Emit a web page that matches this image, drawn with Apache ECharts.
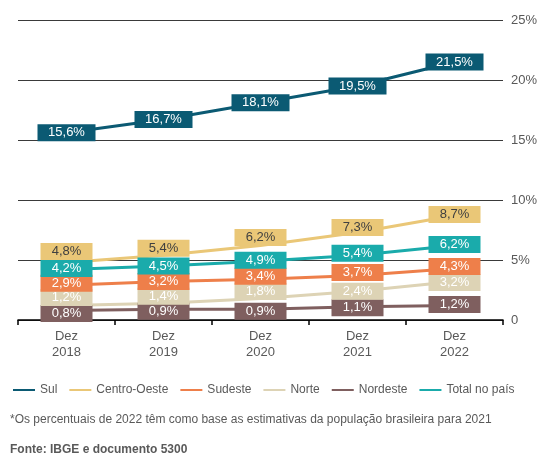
<!DOCTYPE html>
<html>
<head>
<meta charset="utf-8">
<script src="https://cdn.jsdelivr.net/npm/echarts@6/dist/echarts.min.js"></script>
<style>
  html, body { margin: 0; padding: 0; background: #fff; }
  #main { width: 550px; height: 455px; }
</style>
</head>
<body>
<div id="main"></div>
<script>
// categorias e valores (%)
const anos = ['Dez\n2018', 'Dez\n2019', 'Dez\n2020', 'Dez\n2021', 'Dez\n2022'];
const sul = [15.6, 16.7, 18.1, 19.5, 21.5];
const centroOeste = [4.8, 5.4, 6.2, 7.3, 8.7];
const sudeste = [2.9, 3.2, 3.4, 3.7, 4.3];
const norte = [1.2, 1.4, 1.8, 2.4, 3.2];
const nordeste = [0.8, 0.9, 0.9, 1.1, 1.2];
const totalPais = [4.2, 4.5, 4.9, 5.4, 6.2];
const yTicks = [0, 5, 10, 15, 20, 25];

// deslocamento vertical dos rótulos (px) para não se sobreporem, como no original
const desloc = {
  sul: [0, 0, 0, 0, 0],
  centroOeste: [-11, -7, -8, -5, -1],
  totalPais: [-1, 0, -1, -2, -1],
  sudeste: [-2, 0, -3, -3, -2],
  norte: [-8, -7, -7, 0, 1],
  nordeste: [3, 2, 2, 1, -1],
};

const FONT = '"Liberation Sans", Arial, sans-serif';
const GRAY = '#595959';

function fmt(v) {
  return v.toFixed(1).replace('.', ',') + '%';
}

// cria uma série de linha com rótulo em caixa colorida
function serie(name, data, dy, color, textColor, boxWidth) {
  return {
    name: name,
    type: 'line',
    data: data.map((v, i) => ({ value: v, label: { offset: [0, dy[i]] } })),
    symbol: 'circle',
    symbolSize: 1,
    showSymbol: true,
    lineStyle: { color: color, width: 3 },
    itemStyle: { color: color },
    label: {
      show: true,
      position: 'inside',
      formatter: p => fmt(p.value),
      backgroundColor: color,
      color: textColor,
      fontFamily: FONT,
      fontSize: 13,
      width: boxWidth,
      height: 17,
      lineHeight: 17,
      padding: 0,
      align: 'center',
      verticalAlign: 'middle',
    },
    emphasis: { disabled: true },
  };
}

const chart = echarts.init(document.getElementById('main'));
chart.setOption({
  animation: false,
  textStyle: { fontFamily: FONT },
  grid: { left: 18, right: 47, top: 20, bottom: 135 },
  legend: {
    left: 8,
    top: 379,
    itemWidth: 22,
    itemHeight: 2,
    itemGap: 12,
    icon: 'rect',
    textStyle: { color: GRAY, fontSize: 12, fontFamily: FONT },
    data: ['Sul', 'Centro-Oeste', 'Sudeste', 'Norte', 'Nordeste', 'Total no país'],
  },
  xAxis: {
    type: 'category',
    data: anos,
    boundaryGap: true,
    axisLine: { lineStyle: { color: '#000', width: 1.5 } },
    axisTick: { show: true, length: 5, lineStyle: { color: '#000', width: 1.5 } },
    axisLabel: { color: GRAY, fontSize: 13, lineHeight: 16, margin: 8, fontFamily: FONT },
  },
  yAxis: {
    type: 'value',
    position: 'right',
    min: yTicks[0],
    max: yTicks[yTicks.length - 1],
    interval: 5,
    axisLine: { show: false },
    axisTick: { show: false },
    splitLine: { lineStyle: { color: '#3a3a3a', width: 1 } },
    axisLabel: {
      color: GRAY,
      fontSize: 13,
      margin: 8,
      fontFamily: FONT,
      formatter: v => (v === 0 ? '0' : v + '%'),
    },
  },
  series: [
    serie('Nordeste', nordeste, desloc.nordeste, '#7f5f5f', '#fff', 52),
    serie('Norte', norte, desloc.norte, '#ddd3b5', '#fff', 52),
    serie('Sudeste', sudeste, desloc.sudeste, '#ee7f4a', '#fff', 52),
    serie('Total no país', totalPais, desloc.totalPais, '#1aabab', '#fff', 52),
    serie('Centro-Oeste', centroOeste, desloc.centroOeste, '#eac777', '#404040', 52),
    serie('Sul', sul, desloc.sul, '#0b5a73', '#fff', 58),
  ],
  graphic: [
    {
      type: 'text',
      left: 10,
      top: 414,
      style: {
        text: '*Os percentuais de 2022 têm como base as estimativas da população brasileira para 2021',
        fill: GRAY,
        font: '12px ' + FONT,
      },
    },
    {
      type: 'text',
      left: 10,
      top: 444,
      style: {
        text: 'Fonte: IBGE e documento 5300',
        fill: GRAY,
        font: 'bold 12px ' + FONT,
      },
    },
  ],
});
</script>
</body>
</html>
